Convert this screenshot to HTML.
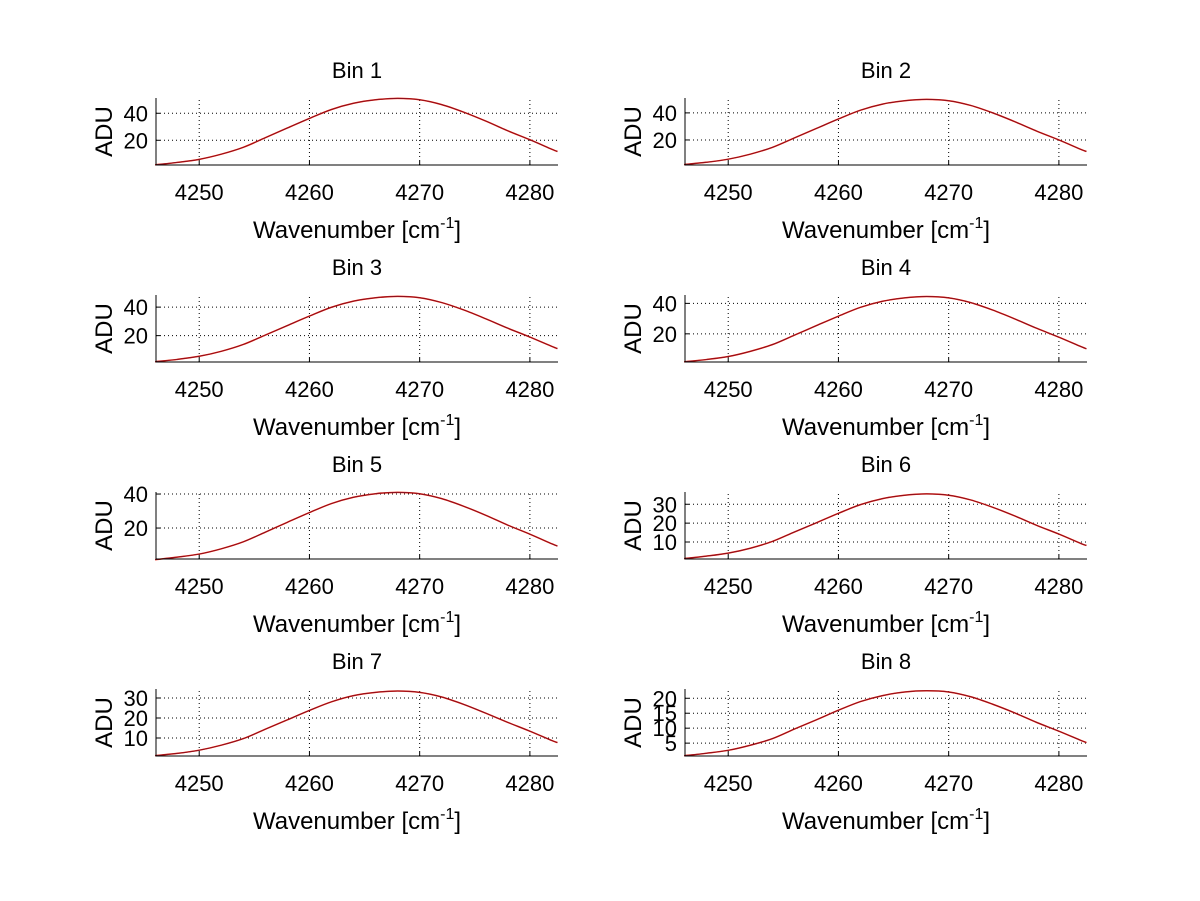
<!DOCTYPE html>
<html><head><meta charset="utf-8"><style>
html,body{margin:0;padding:0;background:#fff;}
svg{display:block;font-family:"Liberation Sans",sans-serif;}
</style></head><body>
<svg id="fig" width="1200" height="901" viewBox="0 0 1200 901" xmlns="http://www.w3.org/2000/svg"></svg>
<script>
const wavenumbers=[4246,4248,4250,4252,4254,4256,4258,4260,4262,4264,4266,4268,4270,4272,4274,4276,4278,4280,4282,4282.5];
const bin1=[1.8,3.6,5.9,9.7,14.8,21.9,29.1,36.2,42.8,47.4,50.0,51.0,50.0,46.4,40.8,34.2,27.0,20.4,13.3,11.7];
const bin2=[1.8,3.5,5.8,9.5,14.5,21.5,28.5,35.5,42.0,46.5,49.0,50.0,49.0,45.5,40.0,33.5,26.5,20.0,13.0,11.5];
const bin3=[1.7,3.3,5.5,9.0,13.8,20.4,27.1,33.7,39.9,44.2,46.6,47.5,46.6,43.2,38.0,31.8,25.2,19.0,12.4,10.9];
const bin4=[1.6,3.1,5.1,8.5,12.9,19.1,25.4,31.6,37.4,41.4,43.6,44.5,43.6,40.5,35.6,29.8,23.6,17.8,11.6,10.2];
const bin5=[1.4,2.9,4.7,7.8,11.9,17.6,23.4,29.1,34.4,38.1,40.2,41.0,40.2,37.3,32.8,27.5,21.7,16.4,10.7,9.4];
const bin6=[1.2,2.5,4.1,6.7,10.3,15.3,20.2,25.2,29.8,33.0,34.8,35.5,34.8,32.3,28.4,23.8,18.8,14.2,9.2,8.2];
const bin7=[1.2,2.3,3.9,6.4,9.7,14.4,19.1,23.8,28.1,31.2,32.8,33.5,32.8,30.5,26.8,22.4,17.8,13.4,8.7,7.7];
const bin8=[0.8,1.6,2.6,4.3,6.5,9.7,12.8,16.0,18.9,20.9,22.1,22.5,22.1,20.5,18.0,15.1,11.9,9.0,5.9,5.2];
const binTitles=["Bin 1","Bin 2","Bin 3","Bin 4","Bin 5","Bin 6","Bin 7","Bin 8"];
const xTicks=[4250,4260,4270,4280];
const yTicks1=[20,40];
const yTicks6=[10,20,30];
const yTicks8=[5,10,15,20];
const yLims=[[1.7,51.3],[1.5,51],[1.5,48.5],[1.5,45.5],[1.8,41.2],[1,36.5],[1,34.5],[0.7,23.1]];

const series=[bin1,bin2,bin3,bin4,bin5,bin6,bin7,bin8];
const tickSets=[yTicks1,yTicks1,yTicks1,yTicks1,yTicks1,yTicks6,yTicks6,yTicks8];
const NS="http://www.w3.org/2000/svg";
const svg=document.getElementById('fig');
function mk(tag,attrs,parent){const e=document.createElementNS(NS,tag);for(const k in attrs)e.setAttribute(k,attrs[k]);(parent||svg).appendChild(e);return e;}
const X0=4246.08,X1=4282.55;
for(let i=0;i<8;i++){
  const col=i%2,row=Math.floor(i/2);
  const L=col?685:156,R=col?1087:558,B=165+row*197,T=B-67;
  const g=mk('g',{});
  
  
  const xs=v=>L+(v-X0)/(X1-X0)*(R-L);
  const [y0,y1]=yLims[i];
  const ys=v=>B-(v-y0)/(y1-y0)*(B-T);
  xTicks.forEach(t=>{const x=xs(t);
    const gl=mk('line',{x1:x,x2:x,y1:B,y2:T,stroke:'#000','stroke-width':1,'stroke-dasharray':'1,3'},g);
    
    mk('line',{x1:x,x2:x,y1:B,y2:B-4,stroke:'#000'},g);
    const tl=mk('text',{x:x,y:B+35,'font-size':22,'text-anchor':'middle'},g);tl.textContent=t;
    
  });
  tickSets[i].forEach(t=>{const y=ys(t);
    const gl=mk('line',{x1:L,x2:R,y1:y,y2:y,stroke:'#000','stroke-width':1,'stroke-dasharray':'1,3'},g);
    
    mk('line',{x1:L,x2:L+4,y1:y,y2:y,stroke:'#000'},g);
    const tl=mk('text',{x:L-8,y:y+8,'font-size':22,'text-anchor':'end'},g);tl.textContent=t;
    
  });
  const d=series[i];let p='';
  const pts=wavenumbers.map((w,k)=>[xs(w),ys(d[k])]);
  p='M'+pts[0][0]+','+pts[0][1];
  for(let k=0;k<pts.length-1;k++){
    const a=pts[Math.max(0,k-1)],b=pts[k],c=pts[k+1],e=pts[Math.min(pts.length-1,k+2)];
    const c1=[b[0]+(c[0]-a[0])/6,b[1]+(c[1]-a[1])/6],c2=[c[0]-(e[0]-b[0])/6,c[1]-(e[1]-b[1])/6];
    p+=` C${c1[0]},${c1[1]} ${c2[0]},${c2[1]} ${c[0]},${c[1]}`;
  }
  const red=mk('path',{d:p,fill:'none',stroke:'#ff2000','stroke-width':1.5},g);
  
  const ln=mk('path',{d:p,fill:'none',stroke:'#8a1020','stroke-width':1},g);
  
  const ax=mk('path',{d:`M${L},${T}V${B}H${R}`,fill:'none',stroke:'#000','stroke-width':1},g);
  
  const tt=mk('text',{x:(L+R)/2,y:T-20,'font-size':22,'text-anchor':'middle'},g);tt.textContent=binTitles[i];
  
  const xl=mk('text',{x:(L+R)/2,y:B+73,'font-size':24,'text-anchor':'middle'},g);
  
  xl.innerHTML='Wavenumber [cm<tspan dy="-10" font-size="16">-1</tspan><tspan dy="10">]</tspan>';
  const yl=mk('text',{x:0,y:0,'font-size':24,'text-anchor':'middle',transform:`translate(${L-44},${(T+B)/2}) rotate(-90)`},g);yl.textContent='ADU';
  
}
</script>
</body></html>
